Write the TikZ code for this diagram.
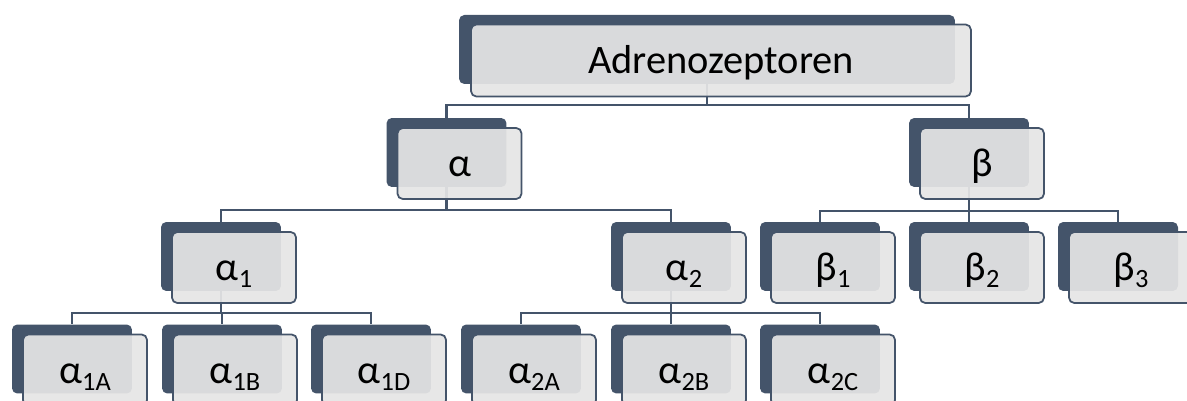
\documentclass[tikz,border=0pt]{standalone}
\usepackage{fontspec}
\setmainfont{Carlito}
\usetikzlibrary{positioning, calc}
\definecolor{slate}{RGB}{68,84,106}
\definecolor{pale}{RGB}{229,229,229}
\pgfdeclarelayer{background}
\pgfsetlayers{background,main}
\newcommand{\lowidx}[1]{\raisebox{-4pt}{\fontsize{15}{18}\selectfont #1}}
\tikzstyle{backbox} = [rectangle, rounded corners=3pt, fill=slate, minimum width=2.4cm, minimum height=1.38cm, inner sep=0pt]
\tikzstyle{frontbox} = [rectangle, rounded corners=3pt, draw=slate, line width=1pt, fill=pale, fill opacity=0.93, text opacity=1, minimum width=2.48cm, minimum height=1.42cm, inner sep=0pt, text height=15pt, text depth=0pt, font=\fontsize{23}{27}\selectfont]
\tikzstyle{conn} = [draw=slate, line width=1.3pt]

\begin{document}
\begin{tikzpicture}[x=0.02cm, y=-0.02cm]
    \useasboundingbox (0,0) rectangle (1187,401);
    \clip (0,0) rectangle (1187,401);

    % top level
    \node (top) [backbox, minimum width=9.92cm] at (707,49.5) {};
    \node (top-f) [frontbox, minimum width=10cm, minimum height=1.44cm] at ($(top)+(14,11)$) {Adrenozeptoren};

    % alpha / beta
    \node (alpha) [backbox] at (446.5,152.5) {};
    \node (alpha-f) [frontbox] at ($(alpha)+(13,11)$) {α};
    \node (beta) [backbox] at (969,152.5) {};
    \node (beta-f) [frontbox] at ($(beta)+(13,11)$) {β};

    % subtypes
    \node (a1) [backbox] at (221,256.5) {};
    \node (a1-f) [frontbox] at ($(a1)+(13,11)$) {α\lowidx{1}};
    \node (a2) [backbox] at (671,256.5) {};
    \node (a2-f) [frontbox] at ($(a2)+(13,11)$) {α\lowidx{2}};
    \node (b1) [backbox] at (820,256.5) {};
    \node (b1-f) [frontbox] at ($(b1)+(13,11)$) {β\lowidx{1}};
    \node (b2) [backbox] at (969,256.5) {};
    \node (b2-f) [frontbox] at ($(b2)+(13,11)$) {β\lowidx{2}};
    \node (b3) [backbox] at (1118,256.5) {};
    \node (b3-f) [frontbox] at ($(b3)+(13,11)$) {β\lowidx{3}};

    % bottom row
    \node (a1A) [backbox] at (72,359) {};
    \node (a1A-f) [frontbox] at ($(a1A)+(13,11)$) {α\lowidx{1A}};
    \node (a1B) [backbox] at (222,359) {};
    \node (a1B-f) [frontbox] at ($(a1B)+(13,11)$) {α\lowidx{1B}};
    \node (a1D) [backbox] at (371,359) {};
    \node (a1D-f) [frontbox] at ($(a1D)+(13,11)$) {α\lowidx{1D}};
    \node (a2A) [backbox] at (521,359) {};
    \node (a2A-f) [frontbox] at ($(a2A)+(13,11)$) {α\lowidx{2A}};
    \node (a2B) [backbox] at (671,359) {};
    \node (a2B-f) [frontbox] at ($(a2B)+(13,11)$) {α\lowidx{2B}};
    \node (a2C) [backbox] at (820,359) {};
    \node (a2C-f) [frontbox] at ($(a2C)+(13,11)$) {α\lowidx{2C}};

    % connectors behind the boxes
    \coordinate (bus-top) at (0,105);
    \coordinate (bus-alpha) at (0,210);
    \coordinate (bus-beta) at (0,211);
    \coordinate (bus-low) at (0,313);
    \begin{pgfonlayer}{background}
        \draw[conn] (top.south) -- (top.south |- bus-top) -| (alpha.north);
        \draw[conn] (top.south |- bus-top) -| (beta.north);
        \draw[conn] (alpha.south) -- (alpha.south |- bus-alpha) -| (a1.north);
        \draw[conn] (alpha.south |- bus-alpha) -| (a2.north);
        \draw[conn] (beta.south) -- (beta.south |- bus-beta) -| (b1.north);
        \draw[conn] (beta.south |- bus-beta) -| (b3.north);
        \draw[conn] (beta.south |- bus-beta) -- (b2.north);
        \foreach \c in {a1A, a1B, a1D}
            \draw[conn] (a1.south) -- (a1.south |- bus-low) -| (\c.north);
        \foreach \c in {a2A, a2B, a2C}
            \draw[conn] (a2.south) -- (a2.south |- bus-low) -| (\c.north);
    \end{pgfonlayer}
\end{tikzpicture}
\end{document}
